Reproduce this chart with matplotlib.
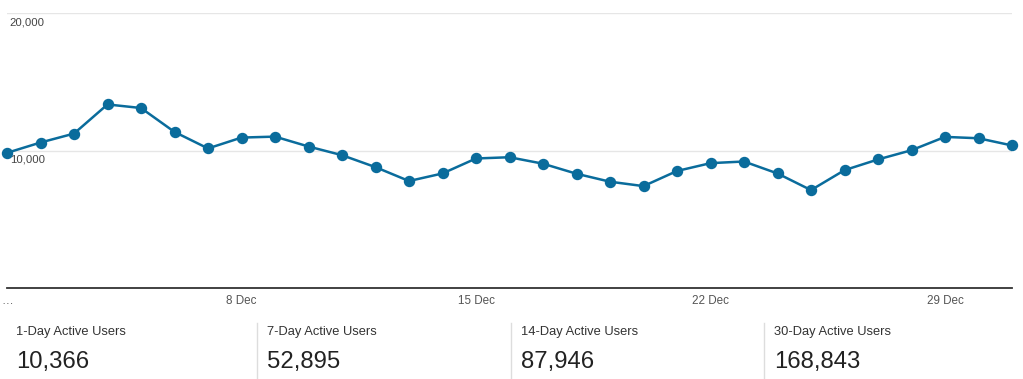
import matplotlib
matplotlib.use('Agg')
import matplotlib.pyplot as plt
from matplotlib.lines import Line2D

plt.rcParams['font.family'] = ['Liberation Sans', 'DejaVu Sans']

# Daily 1-day active users, 1 Dec .. 31 Dec
days = list(range(1, 32))
users = [9830, 10580, 11230, 13350, 13090, 11350, 10150, 10940, 11010, 10290,
         9660, 8790, 7780, 8330, 9420, 9510, 9040, 8310, 7730, 7410,
         8510, 9080, 9200, 8330, 7120, 8570, 9350, 10020, 10990, 10890, 10366]

tick_days = [1, 8, 15, 22, 29]
tick_labels = ['\u2026', '8 Dec', '15 Dec', '22 Dec', '29 Dec']
y_ticks = [10000, 20000]

card_titles = ['1-Day Active Users', '7-Day Active Users', '14-Day Active Users', '30-Day Active Users']
card_values = ['10,366', '52,895', '87,946', '168,843']

W, H = 1023, 379
fig = plt.figure(figsize=(W / 100, H / 100), dpi=100)
ax = fig.add_axes([7 / W, 1 - 288 / H, 1005 / W, 275 / H])

color = '#0a6c9c'
ax.plot(days, users, color=color, lw=1.8, marker='o', ms=7.2, clip_on=False, zorder=3)

ax.set_xlim(1, 31)
ax.set_ylim(0, 20000)

for s in ['top', 'right', 'left']:
    ax.spines[s].set_visible(False)
ax.spines['bottom'].set_color('#333333')
ax.spines['bottom'].set_linewidth(1.3)

ax.set_yticks(y_ticks)
ax.set_yticklabels([])
ax.tick_params(axis='y', length=0)
ax.grid(axis='y', color='#e6e6e6', lw=1)
ax.set_axisbelow(True)
for v in y_ticks:
    ax.annotate(f'{v:,}', xy=(0, v), xycoords=('axes fraction', 'data'),
                xytext=(2, -3), textcoords='offset points',
                ha='left', va='top', fontsize=8.2, color='#444444')

ax.set_xticks(tick_days)
ax.set_xticklabels(tick_labels)
ax.tick_params(axis='x', length=0, pad=5, labelsize=8.4, labelcolor='#555555')

# summary cards under the chart
card_x = [16, 267, 521, 774]
sep_x = [256.5, 510.5, 763.5]
for x, t, v in zip(card_x, card_titles, card_values):
    fig.text(x / W, 1 - 332 / H, t, fontsize=9.3, color='#333333', ha='left', va='center')
    fig.text(x / W, 1 - 362 / H, v, fontsize=17.2, color='#222222', ha='left', va='center')
for x in sep_x:
    fig.add_artist(Line2D([x / W, x / W], [0, 1 - 323 / H], color='#dddddd', lw=1))

fig.savefig('out.png', dpi=100)
